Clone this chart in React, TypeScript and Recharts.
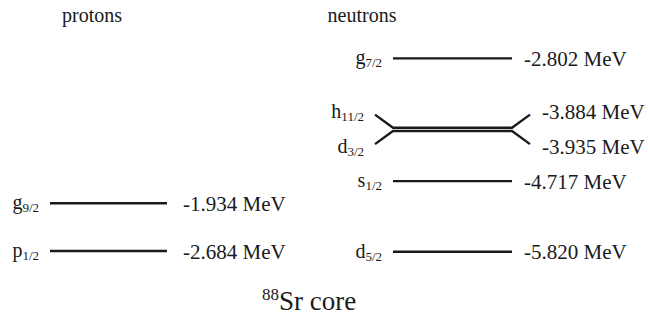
import React from 'react';
import { LineChart, Line, XAxis, YAxis } from 'recharts';

const protonOrbits = ['g', 'p'];
const protonSubs = ['9/2', '1/2'];
const protonEnergies = [-1.934, -2.684];

const neutronOrbits = ['g', 'h', 'd', 's', 'd'];
const neutronSubs = ['7/2', '11/2', '3/2', '1/2', '5/2'];
const neutronEnergies = [-2.802, -3.884, -3.935, -4.717, -5.82];

const columnTitles = ['protons', 'neutrons'];
const coreMass = '88';
const coreLabel = 'Sr core';

const W = 648;
const H = 319;
const FONT = 'Liberation Serif, serif';
const INK = '#1a1a1a';

// layout (pixel-space x-axis)
const P_X0 = 50, P_X1 = 167;
const N_X0 = 393, N_X1 = 512;
const SPLAY_DX = 18;
const SPLAY_DE = 0.205;

type Pt = { x: number; e: number };

function buildLevel(x0: number, x1: number, energies: number[], i: number): { pts: Pt[]; dir: number } {
  const e = energies[i];
  const up = i + 1 < energies.length && e - energies[i + 1] < 0.1;
  const down = i > 0 && energies[i - 1] - e < 0.1;
  if (up || down) {
    const d = up ? SPLAY_DE : -SPLAY_DE;
    return {
      dir: up ? 1 : -1,
      pts: [
        { x: x0 - SPLAY_DX, e: e + d },
        { x: x0, e },
        { x: x1, e },
        { x: x1 + SPLAY_DX, e: e + d },
      ],
    };
  }
  return {
    dir: 0,
    pts: [
      { x: x0, e },
      { x: x1, e },
    ],
  };
}

const textStyle = { fontFamily: FONT };

function makeLabel(name: string, sub: string, energy: number, count: number, valueGap: number, dir: number) {
  const nameDy = dir === 1 ? 3 : dir === -1 ? 9 : 6;
  const valDy = dir === 1 ? 4 : dir === -1 ? 10 : 7.5;
  return (props: any) => {
    const { x, y, index } = props;
    if (index === 0) {
      return (
        <text x={x - 11} y={y + nameDy} textAnchor="end" style={textStyle} fontSize={20} fill={INK}>
          {name}
          <tspan fontSize={13} dy={3}>{sub}</tspan>
        </text>
      );
    }
    if (index === count - 1) {
      return (
        <text x={x + valueGap} y={y + valDy} textAnchor="start" style={textStyle} fontSize={21} fill={INK}>
          {`${energy.toFixed(3)} MeV`}
        </text>
      );
    }
    return <g />;
  };
}

export default function App() {
  const protonLevels = protonEnergies.map((_, i) => buildLevel(P_X0, P_X1, protonEnergies, i));
  const neutronLevels = neutronEnergies.map((_, i) => buildLevel(N_X0, N_X1, neutronEnergies, i));
  return (
    <div style={{ position: 'absolute', left: 0, top: 0, width: W, height: H, background: '#fff' }}>
      <LineChart width={W} height={H} margin={{ top: 0, right: 0, bottom: 0, left: 0 }}>
        <XAxis type="number" dataKey="x" domain={[0, W]} hide allowDataOverflow />
        <YAxis yAxisId="n" type="number" dataKey="e" domain={[-6.87, -1.89]} hide allowDataOverflow />
        <YAxis yAxisId="p" type="number" dataKey="e" domain={[-3.753, 1.263]} hide allowDataOverflow />
        {protonLevels.map((lv, i) => (
          <Line
            key={`p${i}`}
            yAxisId="p"
            data={lv.pts}
            dataKey="e"
            type="linear"
            stroke={INK}
            strokeWidth={2.4}
            dot={false}
            activeDot={false}
            isAnimationActive={false}
            label={makeLabel(protonOrbits[i], protonSubs[i], protonEnergies[i], lv.pts.length, 16, lv.dir)}
          />
        ))}
        {neutronLevels.map((lv, i) => (
          <Line
            key={`n${i}`}
            yAxisId="n"
            data={lv.pts}
            dataKey="e"
            type="linear"
            stroke={INK}
            strokeWidth={2.4}
            dot={false}
            activeDot={false}
            isAnimationActive={false}
            label={makeLabel(neutronOrbits[i], neutronSubs[i], neutronEnergies[i], lv.pts.length, 12, lv.dir)}
          />
        ))}
        <text x={92} y={22} textAnchor="middle" style={textStyle} fontSize={20} fill={INK}>
          {columnTitles[0]}
        </text>
        <text x={362} y={22} textAnchor="middle" style={textStyle} fontSize={20} fill={INK}>
          {columnTitles[1]}
        </text>
        <text x={262} y={310} textAnchor="start" style={textStyle} fontSize={27} fill={INK}>
          <tspan fontSize={17} dy={-10}>{coreMass}</tspan>
          <tspan dy={10}>{coreLabel}</tspan>
        </text>
      </LineChart>
    </div>
  );
}
